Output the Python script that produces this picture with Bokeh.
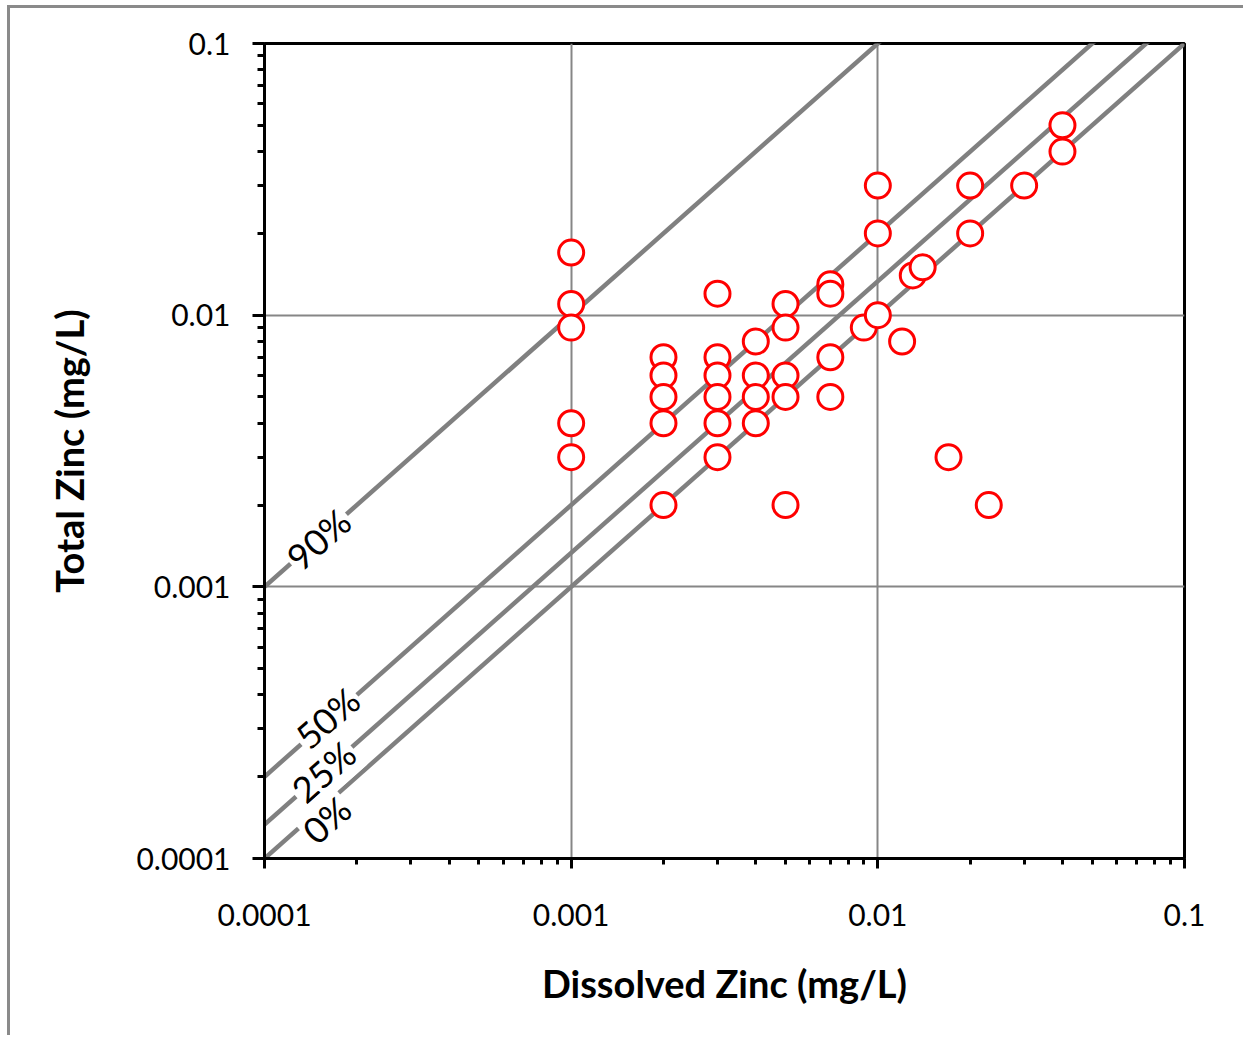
import math
from bokeh.plotting import figure
from bokeh.models import (Range1d, FixedTicker, CustomJSTickFormatter, Label,
                          ColumnDataSource)
from bokeh.embed import file_html
from bokeh.resources import INLINE

# ---- data (mg/L) ----
dissolved = [0.001, 0.001, 0.001, 0.001, 0.001,
             0.002, 0.002, 0.002, 0.002, 0.002,
             0.003, 0.003, 0.003, 0.003, 0.003, 0.003,
             0.004, 0.004, 0.004, 0.004,
             0.005, 0.005, 0.005, 0.005, 0.005,
             0.007, 0.007, 0.007, 0.007,
             0.009, 0.010, 0.010, 0.010, 0.012, 0.013, 0.014, 0.017,
             0.020, 0.020, 0.023, 0.030, 0.040, 0.040]
total = [0.017, 0.011, 0.009, 0.004, 0.003,
         0.007, 0.006, 0.005, 0.004, 0.002,
         0.012, 0.007, 0.006, 0.005, 0.004, 0.003,
         0.008, 0.006, 0.005, 0.004,
         0.011, 0.009, 0.006, 0.005, 0.002,
         0.013, 0.012, 0.007, 0.005,
         0.009, 0.030, 0.020, 0.010, 0.008, 0.014, 0.015, 0.003,
         0.030, 0.020, 0.002, 0.030, 0.050, 0.040]

# reference lines: percent particulate
line_pcts = [90, 50, 25, 0]
line_labels = ["90%", "50%", "25%", "0%"]

major_ticks = [0.0001, 0.001, 0.01, 0.1]

FONT = "Lato"

p = figure(width=1236, height=1030, x_axis_type="log", y_axis_type="log",
           x_range=Range1d(0.0001, 0.1), y_range=Range1d(0.0001, 0.1),
           output_backend="svg", toolbar_location=None,
           min_border_left=254, min_border_right=62,
           min_border_top=35, min_border_bottom=180,
           background_fill_color="white", border_fill_color="white")

# outer chart-area border (only its left and top edges lie inside the window)
p.styles = {"box-shadow": "-3px -3px 0 0 #8a8a8a",
            "margin-left": "10px", "margin-top": "8px"}

p.outline_line_color = "black"
p.outline_line_width = 3

minor = [m * 10.0 ** e for e in range(-4, -1) for m in range(2, 10)]
fmt = CustomJSTickFormatter(code="return tick.toString();")

for ax in (p.xaxis[0], p.yaxis[0]):
    ax.ticker = FixedTicker(ticks=major_ticks, minor_ticks=minor)
    ax.formatter = fmt
    ax.axis_line_color = "black"
    ax.axis_line_width = 3
    ax.major_tick_line_color = "black"
    ax.major_tick_line_width = 3
    ax.minor_tick_line_color = "black"
    ax.minor_tick_line_width = 3
    ax.major_tick_in = 0
    ax.minor_tick_in = 0
    ax.major_label_text_font = FONT
    ax.major_label_text_font_size = "30px"
    ax.major_label_text_color = "black"
    ax.axis_label_text_font = FONT
    ax.axis_label_text_font_style = "bold"
    ax.axis_label_text_font_size = "38px"
    ax.axis_label_text_color = "black"

p.xaxis.major_tick_out = 10
p.xaxis.minor_tick_out = 6
p.yaxis.major_tick_out = 12
p.yaxis.minor_tick_out = 7
p.xaxis.major_label_standoff = 35
p.yaxis.major_label_standoff = 22
p.xaxis.axis_label = "Dissolved Zinc (mg/L)"
p.yaxis.axis_label = "Total Zinc (mg/L)"
p.xaxis.axis_label_standoff = 31
p.yaxis.axis_label_standoff = 41

for g in (p.xgrid[0], p.ygrid[0]):
    g.ticker = FixedTicker(ticks=major_ticks)
    g.grid_line_color = "#868686"
    g.grid_line_width = 2

# reference lines
angle = math.degrees(math.atan2(271.7, 306.7))
label_px = {"90%": (54, 0), "50%": (63, 3), "25%": (59, 1), "0%": (62, -16)}
for pct, lab in zip(line_pcts, line_labels):
    factor = 1.0 / (1.0 - pct / 100.0)
    xs = [0.0001, 0.1]
    ys = [x * factor for x in xs]
    p.line(xs, ys, line_color="#808080", line_width=4.5)
    dx_px, yoff = label_px[lab]
    lx = 10 ** (-4 + dx_px / 306.7)
    p.add_layout(Label(x=lx, y=lx * factor, text=lab, angle=angle, angle_units="deg",
                       text_align="center", text_baseline="middle",
                       y_offset=yoff, text_font=FONT, text_font_size="36px",
                       text_color="black", background_fill_color="white",
                       padding=2))

src = ColumnDataSource(dict(x=dissolved, y=total))
p.scatter("x", "y", source=src, marker="circle", size=25, fill_color="white",
          line_color="#ff0000", line_width=3)

open("out.html", "w").write(file_html(p, INLINE))
